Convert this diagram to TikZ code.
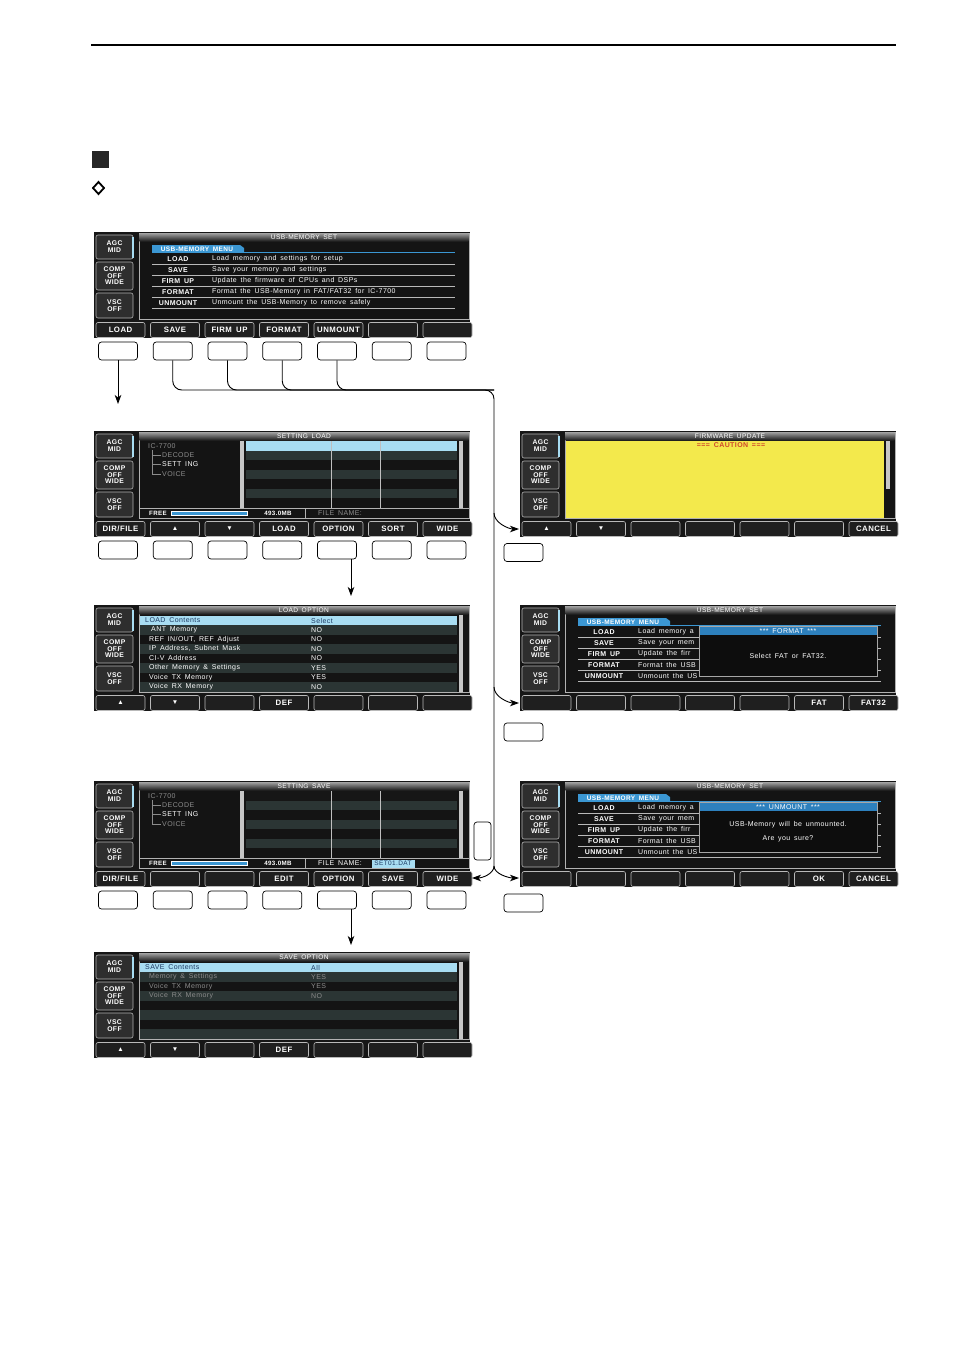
\documentclass[tikz,border=0pt]{standalone}
\usepackage{fontspec}
\newfontfamily\lcd{Liberation Sans}[LetterSpace=6,WordSpace=1.6]
\usetikzlibrary{positioning,arrows.meta,calc}

\definecolor{lcdbg}{HTML}{161616}
\definecolor{lcdrow}{HTML}{2B3534}
\definecolor{lcdsel}{HTML}{A8DDF2}
\definecolor{lcdtab}{HTML}{3B97D3}
\definecolor{lcdbar}{HTML}{2D80BD}
\definecolor{lcdnavy}{HTML}{1D3A63}
\definecolor{lcdgrey}{HTML}{8C8C8C}
\definecolor{lcdscroll}{HTML}{C6C6C6}
\definecolor{lcdyel}{HTML}{F3E94C}
\definecolor{lcdred}{HTML}{D0482B}

\tikzset{
  lcdtext/.style  = {font=\lcd\fontsize{7}{7}\selectfont, text=white, inner sep=0pt},
  lcdbold/.style  = {font=\lcd\bfseries\fontsize{7}{7}\selectfont, text=white, inner sep=0pt},
  lcdtitle/.style = {font=\lcd\fontsize{6.6}{6.6}\selectfont, text=white, inner sep=0pt},
  sidebtn/.style  = {rectangle, rounded corners=2pt, draw=gray!60, line width=0.6pt,
                     fill=black!82, text=white, align=center, minimum width=37pt,
                     inner sep=0pt, font=\lcd\bfseries\fontsize{6.8}{7}\selectfont},
  skey/.style     = {rectangle, rounded corners=2pt, draw=gray!55, line width=0.6pt,
                     fill=black!88, text=white, minimum width=49pt, minimum height=15pt,
                     inner sep=0pt, font=\lcd\bfseries\fontsize{7.8}{7.8}\selectfont},
  hwkey/.style    = {rectangle, rounded corners=3pt, draw, line width=0.7pt, fill=white,
                     minimum width=39pt, minimum height=18pt, inner sep=0pt},
  link/.style     = {line width=0.9pt},
  flow/.style     = {link, -{Stealth[length=9pt, width=6.5pt, inset=2.5pt]}},
}

\newcommand\arrowup{{\fontsize{6.5}{6.5}\selectfont ▲}}
\newcommand\arrowdn{{\fontsize{6.5}{6.5}\selectfont ▼}}

% screen frame: side buttons, display box and title
\newcommand\lcdframe[2]{%
  \fill[lcdbg] (0,0) rectangle (376,106);
  \node[sidebtn, minimum height=24pt] (#1agc)  at (20.5,15)   {AGC\\MID};
  \fill[lcdsel] (37.5,4.5) rectangle (39.5,25.5);
  \node[sidebtn, minimum height=28pt, font=\lcd\bfseries\fontsize{6.8}{6.4}\selectfont]
       (#1comp) at (20.5,44) {COMP\\OFF\\WIDE};
  \node[sidebtn, minimum height=25pt] (#1vsc)  at (20.5,73.5) {VSC\\OFF};
  \filldraw[fill=black!92, draw=gray!60, line width=0.6pt] (45,1) rectangle (375,87);
  \shade[top color=black!40, bottom color=black!88] (45.6,1.6) rectangle (374.4,9);
  \node[lcdtitle] (#1title) at (210,5.4) {#2};
}

% soft keys under the display
\newcommand\softrow[2]{%
  \foreach \lbl [count=\i from 0] in {#2}
    \node[skey] (#1key\i) at ({26.5+54.5*\i},98) {\lbl};
}

% the seven keys below the screen
\newcommand\hwrow[1]{%
  \foreach \i in {0,...,6}
    \node[hwkey] (#1btn\i) at ({24+54.75*\i},119) {};
}

% USB-MEMORY MENU list (keys only; descriptions set per screen)
\newcommand\usbmenu[1]{%
  \fill[lcdtab] (58,13) -- (146,13) -- (150,16) -- (150,20) -- (58,20) -- cycle;
  \node[lcdbold, font=\lcd\bfseries\fontsize{6.5}{6.5}\selectfont] (#1tab) at (103,16.8) {USB-MEMORY MENU};
  \draw[lcdtab, line width=0.6pt] (58,20.3) -- (361,20.3);
  \draw[gray!55, line width=0.4pt] (58,32.5) -- (361,32.5) (58,43.5) -- (361,43.5)
       (58,54.5) -- (361,54.5) (58,65.5) -- (361,65.5) (58,76.5) -- (361,76.5);
  \node[lcdbold] (#1n1) at (84,27) {LOAD};
  \node[lcdbold] (#1n2) at (84,38) {SAVE};
  \node[lcdbold] (#1n3) at (84,49) {FIRM UP};
  \node[lcdbold] (#1n4) at (84,60) {FORMAT};
  \node[lcdbold] (#1n5) at (84,71) {UNMOUNT};
}

% folder tree, file list and status line
\newcommand\filepanel[2]{%
  \node[lcdtext, text=lcdgrey, anchor=west] (#1root) at (54,15) {IC-7700};
  \draw[lcdgrey, line width=0.5pt] (58,19) |- (67,24) (58,24) |- (67,33.5) (58,33.5) |- (67,43);
  \node[lcdtext, text=lcdgrey, anchor=west] (#1dec) at (68,24)   {DECODE};
  \node[lcdtext, anchor=west]               (#1set) at (68,33.5) {SETT ING};
  \node[lcdtext, text=lcdgrey, anchor=west] (#1voi) at (68,43)   {VOICE};
  \fill[lcdscroll] (146,9.5) rectangle (150,77);
  \fill[#2] (152,10) rectangle (363,19.5);
  \foreach \i in {1,3,5} \fill[lcdrow] (152,{10+9.5*\i}) rectangle (363,{19.5+9.5*\i});
  \draw[gray!50, line width=0.4pt] (237,10) -- (237,76.5) (286,10) -- (286,76.5);
  \fill[lcdscroll] (365,9.5) rectangle (369,77);
  \draw[gray!60, line width=0.5pt] (45,77.5) -- (375,77.5) (211,77.5) -- (211,87);
  \node[lcdbold, anchor=west, font=\lcd\bfseries\fontsize{6.2}{6.2}\selectfont] (#1free) at (55,82.5) {FREE};
  \filldraw[fill=lcdtab, draw=white, line width=0.4pt] (77,80.5) rectangle (153,84.5);
  \node[lcdbold, font=\lcd\bfseries\fontsize{6.2}{6.2}\selectfont] (#1size) at (184,82.5) {493.0MB};
}

% option list: header bar, stripes, scroll bar
\newcommand\optrows{%
  \fill[lcdsel] (46,11) rectangle (363,20);
  \foreach \i in {0,2,4,6} \fill[lcdrow] (46,{20+9.5*\i}) rectangle (363,{29.5+9.5*\i});
  \fill[lcdscroll] (364.5,9.5) rectangle (368.5,86.5);
}

% pop-up window over the menu
\newcommand\popup[3]{%
  \filldraw[fill=black!95, draw=gray!70, line width=0.5pt] (179,21) rectangle (357,71);
  \fill[lcdbar] (179.5,21.5) rectangle (356.5,30);
  \node[lcdtext] (#1popt) at (268,25.9) {#2};
  \node[lcdtext, align=center] (#1popb) at (268,51) {#3};
}

\begin{document}
\begin{tikzpicture}[x=1pt, y=-1pt]
\useasboundingbox[fill=white] (0,0) rectangle (954,1351);

% --- Page head ----------------------------------------------------------------
\draw[line width=1.1pt] (91,45) -- (896,45);
\fill[black!85] (92,151) rectangle (109,168);
\draw[line width=1.8pt] (98.5,182) -- (104,188) -- (98.5,194) -- (93,188) -- cycle;

% --- Left column -------------------------------------------------------------
\begin{scope}[shift={(94,232)}]
  \lcdframe{menu}{USB-MEMORY SET}
  \usbmenu{menu}
  \node[lcdtext, anchor=west] (menud1) at (118,27) {Load memory and settings for setup};
  \node[lcdtext, anchor=west] (menud2) at (118,38) {Save your memory and settings};
  \node[lcdtext, anchor=west] (menud3) at (118,49) {Update the firmware of CPUs and DSPs};
  \node[lcdtext, anchor=west] (menud4) at (118,60) {Format the USB-Memory in FAT/FAT32 for IC-7700};
  \node[lcdtext, anchor=west] (menud5) at (118,71) {Unmount the USB-Memory to remove safely};
  \softrow{menu}{LOAD,SAVE,FIRM UP,FORMAT,UNMOUNT,{},{}}
  \hwrow{menu}
\end{scope}

\begin{scope}[shift={(94,431)}]
  \lcdframe{ldset}{SETTING LOAD}
  \filepanel{ldset}{lcdsel}
  \node[lcdtext, text=lcdgrey, anchor=west] (ldsetfile) at (224,82.5) {FILE NAME:};
  \softrow{ldset}{DIR/FILE,\arrowup,\arrowdn,LOAD,OPTION,SORT,WIDE}
  \hwrow{ldset}
  \coordinate (ldsetin) at (24,-27);
\end{scope}

\begin{scope}[shift={(94,605)}]
  \lcdframe{ldopt}{LOAD OPTION}
  \optrows
  \node[lcdtext, text=lcdnavy, anchor=west] (ldopth)  at (51,15.5)   {LOAD Contents};
  \node[lcdtext, text=lcdnavy, anchor=west] (ldopthv) at (217,15.5)  {Select};
  \node[lcdtext, anchor=west] (ldopt1) at (57,24.75) {ANT Memory};
  \node[lcdtext, anchor=west] (ldopt2) at (55,34.25) {REF IN/OUT, REF Adjust};
  \node[lcdtext, anchor=west] (ldopt3) at (55,43.75) {IP Address, Subnet Mask};
  \node[lcdtext, anchor=west] (ldopt4) at (55,53.25) {CI-V Address};
  \node[lcdtext, anchor=west] (ldopt5) at (55,62.75) {Other Memory \& Settings};
  \node[lcdtext, anchor=west] (ldopt6) at (55,72.25) {Voice TX Memory};
  \node[lcdtext, anchor=west] (ldopt7) at (55,81.75) {Voice RX Memory};
  \node[lcdtext, anchor=west] (ldoptv1) at (217,24.75) {NO};
  \node[lcdtext, anchor=west] (ldoptv2) at (217,34.25) {NO};
  \node[lcdtext, anchor=west] (ldoptv3) at (217,43.75) {NO};
  \node[lcdtext, anchor=west] (ldoptv4) at (217,53.25) {NO};
  \node[lcdtext, anchor=west] (ldoptv5) at (217,62.75) {YES};
  \node[lcdtext, anchor=west] (ldoptv6) at (217,72.25) {YES};
  \node[lcdtext, anchor=west] (ldoptv7) at (217,81.75) {NO};
  \softrow{ldopt}{\arrowup,\arrowdn,{},DEF,{},{},{}}
  \coordinate (ldoptin) at (257,-9);
\end{scope}

\begin{scope}[shift={(94,781)}]
  \lcdframe{svset}{SETTING SAVE}
  \filepanel{svset}{lcdbg}
  \node[lcdtext, anchor=west] (svsetfile) at (224,82.5) {FILE NAME:};
  \node[lcdtext, text=lcdnavy, fill=lcdsel, minimum width=43pt, minimum height=8pt,
        font=\lcd\fontsize{6.5}{6.5}\selectfont] (svsetname) at (299,82.5) {SET01.DAT};
  \softrow{svset}{DIR/FILE,{},{},EDIT,OPTION,SAVE,WIDE}
  \hwrow{svset}
  \node[hwkey, minimum width=17pt, minimum height=38pt] (svsetside) at (388.5,60) {};
  \coordinate (svsetin) at (378,97);
\end{scope}

\begin{scope}[shift={(94,952)}]
  \lcdframe{svopt}{SAVE OPTION}
  \optrows
  \node[lcdtext, text=lcdnavy, anchor=west] (svopth)  at (51,15.5)  {SAVE Contents};
  \node[lcdtext, text=lcdnavy, anchor=west] (svopthv) at (217,15.5) {All};
  \node[lcdtext, text=lcdgrey, anchor=west] (svopt1)  at (55,24.75) {Memory \& Settings};
  \node[lcdtext, text=lcdgrey, anchor=west] (svopt2)  at (55,34.25) {Voice TX Memory};
  \node[lcdtext, text=lcdgrey, anchor=west] (svopt3)  at (55,43.75) {Voice RX Memory};
  \node[lcdtext, text=lcdgrey, anchor=west] (svoptv1) at (217,24.75) {YES};
  \node[lcdtext, text=lcdgrey, anchor=west] (svoptv2) at (217,34.25) {YES};
  \node[lcdtext, text=lcdgrey, anchor=west] (svoptv3) at (217,43.75) {NO};
  \softrow{svopt}{\arrowup,\arrowdn,{},DEF,{},{},{}}
  \coordinate (svoptin) at (257,-7);
\end{scope}

% --- Right column ------------------------------------------------------------
\begin{scope}[shift={(520,431)}]
  \lcdframe{firm}{FIRMWARE UPDATE}
  \fill[lcdyel] (46,9.5) rectangle (364,86.5);
  \fill[lcdscroll] (365.5,10) rectangle (369.5,58);
  \node[lcdbold, text=lcdred] (firmcau) at (211,14.5) {=== CAUTION ===};
  \softrow{firm}{\arrowup,\arrowdn,{},{},{},{},CANCEL}
  \node[hwkey] (firmbtn) at (3.5,121.5) {};
  \coordinate (firmin) at (-1,98);
\end{scope}

\begin{scope}[shift={(520,605)}]
  \lcdframe{fmt}{USB-MEMORY SET}
  \usbmenu{fmt}
  \node[lcdtext, anchor=west] (fmtd1) at (118,27) {Load memory a};
  \node[lcdtext, anchor=west] (fmtd2) at (118,38) {Save your mem};
  \node[lcdtext, anchor=west] (fmtd3) at (118,49) {Update the firr};
  \node[lcdtext, anchor=west] (fmtd4) at (118,60) {Format the USB};
  \node[lcdtext, anchor=west] (fmtd5) at (118,71) {Unmount the US};
  \popup{fmt}{*** FORMAT ***}{Select FAT or FAT32.}
  \softrow{fmt}{{},{},{},{},{},FAT,FAT32}
  \node[hwkey] (fmtbtn) at (3.5,127) {};
  \coordinate (fmtin) at (-1,98);
\end{scope}

\begin{scope}[shift={(520,781)}]
  \lcdframe{umt}{USB-MEMORY SET}
  \usbmenu{umt}
  \node[lcdtext, anchor=west] (umtd1) at (118,27) {Load memory a};
  \node[lcdtext, anchor=west] (umtd2) at (118,38) {Save your mem};
  \node[lcdtext, anchor=west] (umtd3) at (118,49) {Update the firr};
  \node[lcdtext, anchor=west] (umtd4) at (118,60) {Format the USB};
  \node[lcdtext, anchor=west] (umtd5) at (118,71) {Unmount the US};
  \popup{umt}{*** UNMOUNT ***}{USB-Memory will be unmounted.\\[7pt]Are you sure?}
  \softrow{umt}{{},{},{},{},{},OK,CANCEL}
  \node[hwkey] (umtbtn) at (3.5,122) {};
  \coordinate (umtin) at (-1,97);
\end{scope}

% --- Flows -------------------------------------------------------------------
\coordinate (busturn) at (494,390);
\coordinate (busend)  at (494,866);

\draw[flow] (menubtn0.south) -- (ldsetin);
\draw[flow] ([xshift=14pt]ldsetbtn4.south) -- (ldoptin);
\draw[flow] ([xshift=14pt]svsetbtn4.south) -- (svoptin);

% SAVE / FIRM UP / FORMAT / UNMOUNT share one line down the middle
\draw[link, rounded corners=9pt] (menubtn1.south) |- (busturn) -- (busend);
\draw[link, rounded corners=9pt] (menubtn2.south) |- (busturn);
\draw[link, rounded corners=9pt] (menubtn3.south) |- (busturn);
\draw[link, rounded corners=9pt] (menubtn4.south) |- (busturn);

\draw[flow] ($(busturn |- firmin)+(0,-16)$) .. controls +(0,10) and +(-10,0) .. (firmin);
\draw[flow] ($(busturn |- fmtin)+(0,-16)$)  .. controls +(0,10) and +(-10,0) .. (fmtin);
\draw[flow] (busend) .. controls +(0,8) and +(10,0)  .. (svsetin);
\draw[flow] (busend) .. controls +(0,8) and +(-10,0) .. (umtin);

\end{tikzpicture}
\end{document}
